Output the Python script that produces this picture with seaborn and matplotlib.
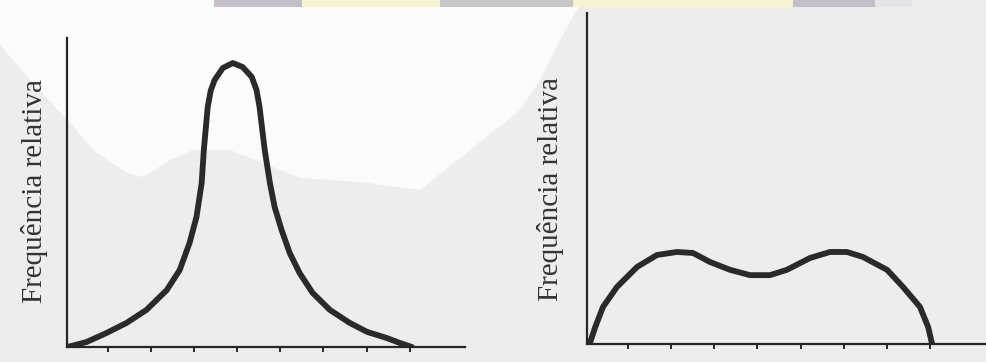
import matplotlib
matplotlib.use("Agg")
import matplotlib.pyplot as plt
from matplotlib.patches import Polygon, Rectangle
import seaborn as sns
import pandas as pd

# ---- data (arbitrary units) ----
peak_x = [0.07, 0.51, 0.97, 1.44, 1.90, 2.37, 2.67, 2.90, 3.06, 3.18, 3.23, 3.32,
          3.39, 3.48, 3.67, 3.90, 4.13, 4.34, 4.45, 4.52, 4.64, 4.76, 4.87, 5.03,
          5.22, 5.45, 5.75, 6.15, 6.61, 7.01, 7.47, 7.77, 8.05]
peak_y = [0.00, 0.16, 0.45, 0.78, 1.20, 1.84, 2.49, 3.37, 4.21, 5.31, 6.38, 7.77,
          8.30, 8.64, 9.03, 9.19, 9.06, 8.74, 8.32, 7.77, 6.38, 5.31, 4.53, 3.79,
          3.04, 2.39, 1.75, 1.20, 0.78, 0.49, 0.29, 0.13, 0.00]

bimodal_x = [0.12, 0.25, 0.43, 0.75, 1.22, 1.68, 2.14, 2.51, 2.90, 3.37, 3.83,
             4.29, 4.68, 5.22, 5.68, 6.07, 6.44, 7.00, 7.37, 7.76, 7.95, 8.04]
bimodal_y = [0.00, 0.51, 1.12, 1.72, 2.33, 2.69, 2.78, 2.75, 2.48, 2.24, 2.08,
             2.08, 2.24, 2.60, 2.78, 2.78, 2.63, 2.24, 1.72, 1.12, 0.51, 0.00]

tick_positions = [1, 2, 3, 4, 5, 6, 7, 8]
ylabel_text = "Frequência relativa"

# ---- style ----
sns.set_style("white")
plt.rcParams['font.family'] = ['Liberation Serif', 'DejaVu Serif']

W, H = 987, 362
fig = plt.figure(figsize=(W / 100, H / 100), dpi=100)
bg = "#ededed"
fig.patch.set_facecolor(bg)

def px(x, y):
    return (x / W, 1 - y / H)

# white scan patch in upper-left area
white_pts = [(0, 0), (585, 0), (575, 12), (560, 40), (540, 80), (520, 110),
             (470, 150), (420, 190), (360, 182), (300, 178), (273, 167),
             (230, 150), (193, 150), (170, 160), (143, 177), (127, 173),
             (93, 150), (70, 123), (30, 80), (0, 45)]
fig.patches.append(Polygon([px(*p) for p in white_pts], closed=True,
                           transform=fig.transFigure, facecolor="#fbfbfb",
                           edgecolor="none", zorder=-5))
# decorative strip at the top
strip = [(214, 302, "#c4bec8"), (302, 440, "#f8f4d2"), (440, 573, "#c6c6c6"),
         (573, 793, "#f8f4d2"), (793, 875, "#c4bec8"), (875, 912, "#e6e4ea")]
for x0, x1, c in strip:
    fig.patches.append(Rectangle(px(x0, 7), (x1 - x0) / W, 7 / H,
                                 transform=fig.transFigure, facecolor=c,
                                 edgecolor="none", zorder=-4))

line_color = "#2a2a2a"
axis_color = "#262626"

def style_axes(ax, xmax, label_xy):
    ax.set_facecolor("none")
    ax.set_zorder(2)
    for s in ["top", "right"]:
        ax.spines[s].set_visible(False)
    for s in ["left", "bottom"]:
        ax.spines[s].set_color(axis_color)
        ax.spines[s].set_linewidth(1.6)
    ax.set_ylim(0, 10)
    ax.set_xlim(0.06, xmax)
    ax.set_xticks(tick_positions)
    ax.set_xticklabels([])
    ax.set_yticks([])
    ax.tick_params(axis="x", direction="out", length=3.5, width=1.4,
                   color=axis_color, bottom=True)
    ax.set_xlabel("")
    ax.set_ylabel(ylabel_text, fontsize=21, color="#333333")
    ax.yaxis.set_label_coords(*label_xy)
    ax.yaxis.label.set_va("center")
    ax.grid(False)

# left panel: spans px x 67..465, y 38..347
axL = fig.add_axes([67 / W, (H - 347) / H, 398 / W, 309 / H])
sns.lineplot(data=pd.DataFrame({"x": peak_x, "y": peak_y}), x="x", y="y",
             sort=False, ax=axL, color=line_color, linewidth=4.2)
style_axes(axL, 9.28, ((35 - 67) / 398, (347 - 191) / 309))

# right panel: spans px x 587..987, y 13..344
axR = fig.add_axes([587 / W, (H - 344) / H, 400 / W, 331 / H])
sns.lineplot(data=pd.DataFrame({"x": bimodal_x, "y": bimodal_y}), x="x", y="y",
             sort=False, ax=axR, color=line_color, linewidth=4.2)
style_axes(axR, 9.31, ((551 - 587) / 400, (344 - 189) / 331))

fig.savefig("out.png", dpi=100, facecolor=fig.get_facecolor())
